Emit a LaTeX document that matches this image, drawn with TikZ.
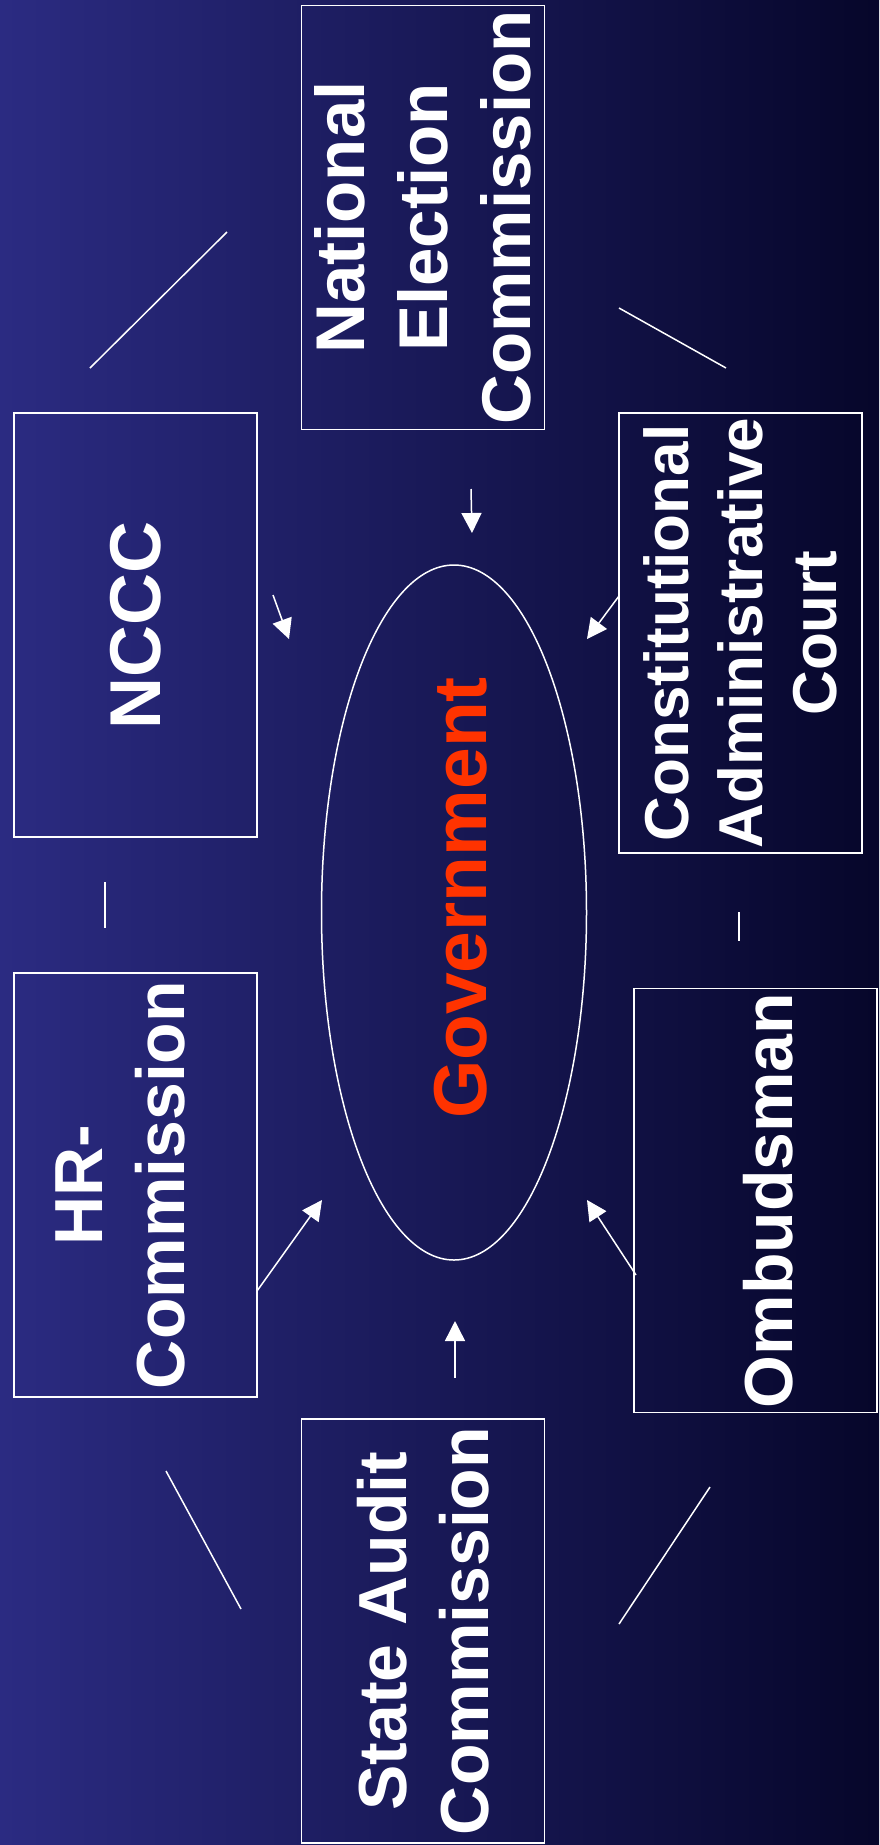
\documentclass[tikz,border=0pt]{standalone}
\usepackage{fontspec}
\setmainfont{Liberation Sans}
\usepackage{tikz}
\usetikzlibrary{arrows.meta,shapes.geometric}

\definecolor{bgleft}{RGB}{43,43,130}
\definecolor{bgright}{RGB}{6,6,42}
\definecolor{govred}{RGB}{255,51,0}

\begin{document}
\begin{tikzpicture}[x=1pt, y=-1pt, line width=1.5pt, >={Triangle[length=20pt,width=20pt]}]
\tikzstyle{block} = [draw=white, rectangle, rotate=90, minimum width=424pt, minimum height=243pt, inner sep=0pt, align=center, text=white, font=\fontsize{68}{82}\selectfont\bfseries]
\tikzstyle{core} = [draw=white, ellipse, minimum width=265pt, minimum height=695pt, inner sep=0pt]
\tikzstyle{link} = [white]

\useasboundingbox (0,0) rectangle (879,1845);
\shade [left color=bgleft, right color=bgright] (0,0) rectangle (879,1845);

    % the six bodies around the government
    \node [block, font=\fontsize{69}{83}\selectfont\bfseries] (election) at (423,217.5) {National\\Election\\Commission};
    \node [block, font=\fontsize{72}{86}\selectfont\bfseries] (nccc) at (135.5,625) {NCCC};
    \node [block, minimum width=440pt, font=\fontsize{62}{74}\selectfont\bfseries] (court) at (740.5,633) {Constitutional\\Administrative\\Court};
    \node [block] (hr) at (135.5,1185) {HR-\\Commission\rule[-30pt]{0pt}{0pt}};
    \node [block] (ombudsman) at (755.5,1200.5) {\rule{0pt}{74pt}Ombudsman};
    \node [block] (audit) at (423,1631) {State Audit\\Commission};

    \node [core] (government) at (454,912.5) {};
    \node [rotate=90, text=govred, font=\fontsize{75}{90}\selectfont\bfseries] (govlabel) at (461,898) {Government};

    % end points of the arrows
    \coordinate (e0) at (471,489);   \coordinate (e1) at (472,533);
    \coordinate (n0) at (273,595);   \coordinate (n1) at (289,639);
    \coordinate (c0) at (619,596);   \coordinate (c1) at (587,639);
    \coordinate (h0) at (257,1291);  \coordinate (h1) at (322,1200);
    \coordinate (o0) at (636,1275);  \coordinate (o1) at (587,1200);
    \coordinate (a0) at (455,1378);  \coordinate (a1) at (455,1321);

    \draw [link,->] (e0) -- (e1);
    \draw [link,->] (n0) -- (n1);
    \draw [link,->] (c0) -- (c1);
    \draw [link,->] (h0) -- (h1);
    \draw [link,->] (o0) -- (o1);
    \draw [link,->] (a0) -- (a1);

    % short strokes between the boxes
    \coordinate (s1) at (90,368);    \coordinate (t1) at (227,232);
    \coordinate (s2) at (619,308);   \coordinate (t2) at (726,368);
    \coordinate (s3) at (105,882);   \coordinate (t3) at (105,928);
    \coordinate (s4) at (739,912);   \coordinate (t4) at (739,941);
    \coordinate (s5) at (166,1471);  \coordinate (t5) at (241,1609);
    \coordinate (s6) at (619,1624);  \coordinate (t6) at (710,1487);

    \foreach \i in {1,...,6}
        \draw [link] (s\i) -- (t\i);

\end{tikzpicture}
\end{document}
